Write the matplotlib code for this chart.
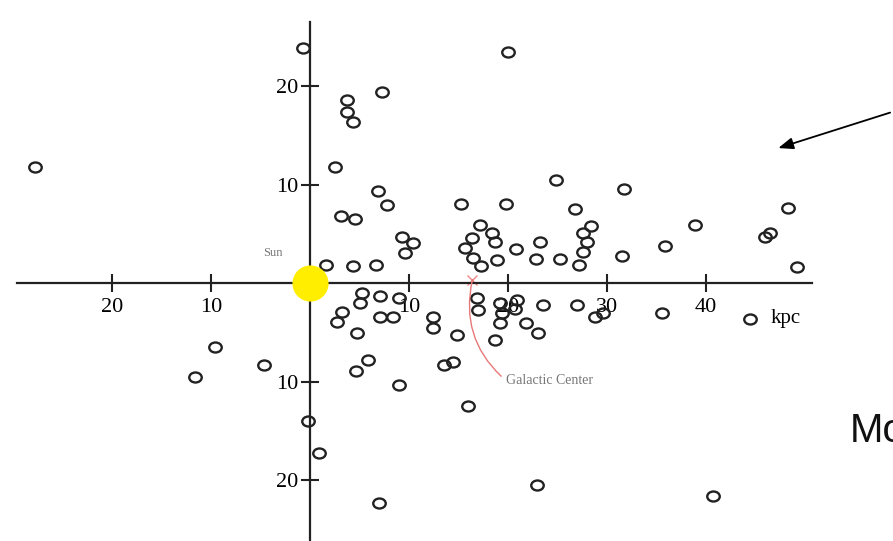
import numpy as np
import matplotlib
matplotlib.use('Agg')
import matplotlib.pyplot as plt
from matplotlib.path import Path

# globular cluster positions (kpc), sun at origin
gc_x = [-27.8, -0.7, -9.6, -11.6, -4.6, -0.2, 0.9, 7.0, 7.3, 3.7,
        3.7, 4.3, 2.5, 6.9, 7.8, 3.1, 4.5, 9.3, 10.4, 9.6,
        1.6, 4.3, 6.7, 5.3, 5.1, 7.1, 9.0, 3.2, 2.7, 7.1,
        8.4, 12.4, 12.4, 14.9, 4.8, 5.9, 4.6, 13.5, 14.4, 9.0,
        16.0, 22.9, 40.7, 20.0, 15.3, 19.8, 24.9, 26.8, 31.7, 17.2,
        18.4, 18.7, 16.4, 15.7, 16.5, 18.9, 20.8, 23.2, 22.8, 25.3,
        28.4, 27.6, 28.0, 27.6, 27.2, 31.5, 35.9, 38.9, 48.3, 46.5,
        46.0, 49.2, 35.6, 44.4, 16.9, 17.0, 19.2, 19.4, 19.2, 18.7,
        20.9, 20.7, 23.5, 21.8, 23.0, 27.0, 28.8, 29.6, 17.3]
gc_y = [11.8, 23.9, -6.5, -9.5, -8.3, -14.0, -17.3, -22.3, 19.4, 18.6,
        17.4, 16.3, 11.8, 9.3, 7.9, 6.8, 6.5, 4.7, 4.1, 3.0,
        1.8, 1.7, 1.8, -1.0, -2.0, -1.3, -1.5, -2.9, -4.0, -3.5,
        -3.5, -3.5, -4.6, -5.3, -5.1, -7.8, -8.9, -8.3, -8.0, -10.4,
        -12.5, -20.5, -21.6, 23.5, 8.0, 8.0, 10.5, 7.5, 9.5, 5.9,
        5.1, 4.2, 4.6, 3.6, 2.5, 2.3, 3.5, 4.2, 2.4, 2.4,
        5.8, 5.1, 4.2, 3.1, 1.8, 2.7, 3.8, 5.9, 7.6, 5.1,
        4.7, 1.6, -3.0, -3.7, -1.5, -2.7, -2.0, -3.0, -4.1, -5.8,
        -1.7, -2.6, -2.2, -4.1, -5.1, -2.2, -3.5, -3.0, 1.7]

sun = (0.0, 0.0)
galactic_center = (16.4, 0.3)

xticks = [-20, -10, 10, 20, 30, 40]
yticks = [20, 10, -10, -20]

serif = ['Liberation Serif', 'DejaVu Serif']

fig = plt.figure(figsize=(8.93, 5.41), dpi=100)
ax = fig.add_axes([0, 0, 1, 1])
ax.set_xlim(-31.31, 58.89)
ax.set_ylim(-26.19, 28.73)

# axes crossing at the sun
for s in ['top', 'right']:
    ax.spines[s].set_visible(False)
ax.spines['left'].set_position(('data', 0))
ax.spines['bottom'].set_position(('data', 0))
ax.spines['bottom'].set_bounds(-29.6, 50.7)
ax.spines['left'].set_bounds(-26.2, 26.5)
for s in ['left', 'bottom']:
    ax.spines[s].set_linewidth(1.6)
    ax.spines[s].set_color('#222222')

ax.set_xticks(xticks)
ax.set_xticklabels([str(abs(t)) for t in xticks], family=serif, fontsize=16)
ax.set_yticks(yticks)
ax.set_yticklabels([str(abs(t)) for t in yticks], family=serif, fontsize=16)
ax.tick_params(direction='inout', length=13, width=1.5, color='#222222', pad=2)
ax.tick_params(axis='x', pad=4)

# slightly flattened open circles
ell = Path.unit_circle()
ell = Path(ell.vertices * np.array([1.0, 0.8]), ell.codes)
ax.plot(gc_x, gc_y, linestyle='none', marker=ell, markersize=9,
        markerfacecolor='none', markeredgecolor='#222222', markeredgewidth=1.7,
        zorder=3)

# sun
ax.plot(*sun, marker='o', markersize=25, color='#ffee00', zorder=4,
        clip_on=False)
ax.text(-3.7, 3.0, 'Sun', family=serif, fontsize=9, color='#777777',
        ha='center', va='center')

# galactic center
ax.plot(*galactic_center, marker='x', markersize=7, color='#ee8888',
        mew=1.0, zorder=2)
ax.annotate('Galactic Center', xy=galactic_center, xytext=(19.8, -9.9),
            family=serif, fontsize=10, color='#777777', ha='left', va='center',
            arrowprops=dict(arrowstyle='-', color='#e87878', lw=1.0,
                            shrinkA=2, shrinkB=0, relpos=(0, 0.5),
                            connectionstyle='arc3,rad=-0.3'))

ax.text(48.0, -3.6, 'kpc', family=serif, fontsize=15, ha='center', va='center')

# arrow pointing in from the right
ax.annotate('', xy=(47.3, 13.7), xytext=(58.6, 17.3),
            arrowprops=dict(arrowstyle='-|>,head_length=0.9,head_width=0.35',
                            color='black', lw=1.3, shrinkA=0, shrinkB=0),
            annotation_clip=False)

fig.text(850 / 893, 1 - 442 / 541, 'Mo', family=['Liberation Sans', 'DejaVu Sans'],
         fontsize=29, ha='left', va='baseline', color='#111111')

fig.savefig('out.png', dpi=100, facecolor='white')
